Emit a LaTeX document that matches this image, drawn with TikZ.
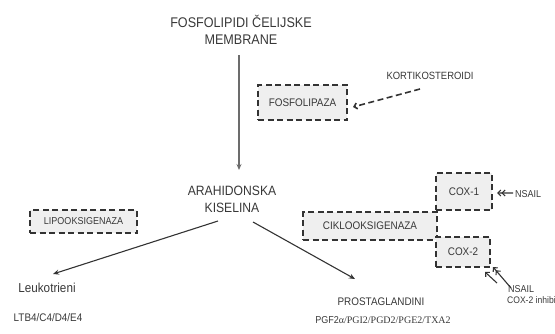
\documentclass[tikz,border=0pt]{standalone}
\usepackage{fontspec}
\setmainfont[FakeStretch=0.9]{Liberation Sans}
\newfontfamily\serifpg{Liberation Serif}
\usetikzlibrary{arrows.meta,calc}
\definecolor{txt}{HTML}{383838}
\definecolor{ln}{HTML}{333333}
\definecolor{boxfill}{HTML}{EFEFEF}
\tikzset{
  lbl/.style={text=txt, inner sep=0pt, align=center},
  dbox/.style={draw=ln, fill=boxfill, line width=1.6bp, dash pattern=on 6bp off 3.5bp, text=txt, inner sep=0pt, font=\fontsize{11bp}{13bp}\selectfont},
  arr/.style={draw=ln, line width=1.1bp, -{Stealth[length=6bp,width=5bp]}},
  varr/.style={draw=gray!85!black, line width=1.3bp, -{Stealth[length=6bp,width=5bp]}},
  darr/.style={draw=ln, line width=1.6bp, dash pattern=on 6bp off 3.5bp, -{Straight Barb[length=3bp,width=6bp]}},
  dbl/.style={draw=ln, line width=1.1bp, -{Straight Barb[length=3bp,width=6bp] Straight Barb[length=3bp,width=6bp]}},
  sgl/.style={draw=ln, line width=1.1bp, -{Straight Barb[length=3bp,width=6bp]}}
}
\begin{document}
\begin{tikzpicture}[x=1bp,y=-1bp]
\useasboundingbox (0,0) rectangle (555,333);
\node[lbl, font=\fontsize{14bp}{17bp}\selectfont] (title) at (241,30) {FOSFOLIPIDI ČELIJSKE\\MEMBRANE};
\node[lbl, font=\fontsize{13.5bp}{17bp}\selectfont] (arah) at (232,199) {ARAHIDONSKA\\KISELINA};
\node[dbox, minimum width=89bp, minimum height=35bp] (fosfo) at (302.5,102.5) {FOSFOLIPAZA};
\node[lbl, font=\fontsize{10.5bp}{13bp}\selectfont] (kort) at (430,76) {KORTIKOSTEROIDI};
\node[dbox, minimum width=107bp, minimum height=23bp, font=\fontsize{10bp}{12bp}\selectfont] (lipo) at (83.5,221.5) {LIPOOKSIGENAZA};
\node[dbox, minimum width=134bp, minimum height=28bp] (ciklo) at (370,226) {CIKLOOKSIGENAZA};
\node[dbox, minimum width=56bp, minimum height=37bp] (cox1) at (464,191.5) {COX-1};
\node[dbox, minimum width=54bp, minimum height=30bp] (cox2) at (463,252) {COX-2};
\node[lbl, font=\fontsize{10bp}{12bp}\selectfont] (nsail1) at (528,194) {NSAIL};
\node[lbl, font=\fontsize{10bp}{12bp}\selectfont] (nsail2) at (521,289) {NSAIL};
\node[lbl, font=\fontsize{9.5bp}{12bp}\selectfont, anchor=west] (coxinh) at (507,300) {COX-2 inhibitori};
\node[lbl, font=\fontsize{13bp}{15bp}\selectfont] (leuk) at (47,288) {Leukotrieni};
\node[lbl, font=\fontsize{11bp}{13bp}\selectfont] (ltb) at (48,317.5) {LTB4/C4/D4/E4};
\node[lbl, font=\fontsize{11bp}{13bp}\selectfont] (prosta) at (381,302) {PROSTAGLANDINI};
\node[lbl, font=\fontsize{10bp}{12bp}\selectfont] (pgf) at (383,320) {PGF2{\serifpg α/PGI2/PGD2/PGE2/TXA2}};
% connectors
\draw[varr] ($(title)+(-2,25)$) -- ($(arah)+(7,-29)$);
\draw[darr] ($(kort)+(-10,13)$) -- ($(fosfo)+(50.5,4.5)$);
\draw[arr] ($(arah)+(-14,22)$) -- ($(leuk)+(6,-14)$);
\draw[arr] ($(arah)+(21,23)$) -- ($(prosta)+(-26,-23)$);
\draw[dbl] ($(nsail1)+(-15,-1)$) -- ($(cox1)+(33,1.5)$);
\draw[sgl] ($(nsail2)+(-24,-6)$) -- ($(cox2)+(22,20)$);
\draw[dbl] ($(nsail2)+(-10,-1)$) -- ($(cox2)+(30,15)$);
\end{tikzpicture}
\end{document}
